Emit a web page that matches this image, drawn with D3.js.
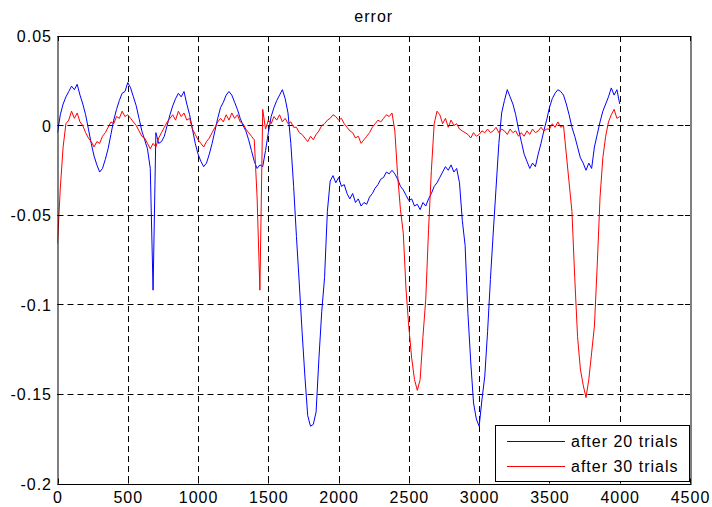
<!DOCTYPE html>
<html><head><meta charset="utf-8">
<script src="https://cdn.jsdelivr.net/npm/d3@7"></script>
<style>
body{margin:0;background:#fff}
svg{display:block}
text{font-family:"Liberation Sans",Arial,Helvetica,sans-serif;font-size:16px;letter-spacing:1px;fill:#000}
</style>
</head><body>
<svg id="c" width="712" height="507"></svg>
<script>
const chartTitle = "error";
const seriesNames = ["after 20 trials", "after 30 trials"];
const seriesColors = ["#0000ff", "#ff0000"];
const xTicks = [0, 500, 1000, 1500, 2000, 2500, 3000, 3500, 4000, 4500];
const yTicks = [-0.2, -0.15, -0.1, -0.05, 0, 0.05];
const yTickLabels = ["-0.2", "-0.15", "-0.1", "-0.05", "0", "0.05"];
const sampleStep = 20; // iterations between samples, starting at 0

const after20 = [
 -0.004, 0.006, 0.012, 0.016, 0.019, 0.022, 0.020, 0.023, 0.017, 0.012,
 0.006, -0.002, -0.010, -0.017, -0.022, -0.026, -0.024, -0.019, -0.013, -0.005,
 0.003, 0.009, 0.014, 0.018, 0.019, 0.024, 0.021, 0.016, 0.011, 0.004,
 -0.003, -0.008, -0.013, -0.024, -0.092, -0.004, -0.010, -0.009, -0.006, 0.000,
 0.006, 0.011, 0.015, 0.018, 0.016, 0.019, 0.012, 0.006, -0.002, -0.010,
 -0.016, -0.020, -0.023, -0.021, -0.016, -0.010, -0.003, 0.004, 0.010, 0.013,
 0.017, 0.019, 0.017, 0.013, 0.009, 0.004, 0.000, -0.003, -0.008, -0.014,
 -0.020, -0.024, -0.022, -0.023, -0.014, -0.004, 0.005, 0.010, 0.014, 0.017,
 0.020, 0.015, 0.007, -0.010, -0.034, -0.062, -0.088, -0.115, -0.140, -0.162,
 -0.168, -0.167, -0.160, -0.130, -0.104, -0.085, -0.048, -0.031, -0.028, -0.032,
 -0.029, -0.034, -0.033, -0.038, -0.041, -0.038, -0.043, -0.041, -0.045, -0.043,
 -0.044, -0.040, -0.038, -0.035, -0.033, -0.030, -0.029, -0.026, -0.027, -0.025,
 -0.027, -0.030, -0.034, -0.036, -0.039, -0.042, -0.041, -0.045, -0.044, -0.047,
 -0.043, -0.045, -0.041, -0.038, -0.034, -0.032, -0.029, -0.026, -0.023, -0.025,
 -0.022, -0.026, -0.024, -0.032, -0.053, -0.067, -0.105, -0.132, -0.155, -0.164,
 -0.168, -0.153, -0.140, -0.115, -0.086, -0.060, -0.035, -0.010, 0.007, 0.014,
 0.020, 0.016, 0.012, 0.006, -0.002, -0.009, -0.016, -0.020, -0.024, -0.021,
 -0.023, -0.016, -0.010, -0.003, 0.003, 0.010, 0.015, 0.018, 0.020, 0.019,
 0.017, 0.012, 0.006, -0.001, -0.006, -0.012, -0.018, -0.021, -0.025, -0.021,
 -0.024, -0.012, -0.005, 0.002, 0.008, 0.012, 0.016, 0.021, 0.017, 0.020,
 0.012
];

const after30 = [
 -0.066, -0.035, -0.012, 0.001, 0.003, 0.008, 0.004, 0.007, 0.002, 0.000,
 -0.004, -0.007, -0.009, -0.012, -0.009, -0.010, -0.006, -0.004, -0.001, 0.002,
 0.001, 0.005, 0.004, 0.008, 0.005, 0.006, 0.004, 0.002, 0.000, -0.003,
 -0.006, -0.007, -0.010, -0.013, -0.010, -0.012, -0.007, -0.004, -0.001, 0.002,
 0.004, 0.006, 0.003, 0.008, 0.005, 0.007, 0.003, 0.004, -0.002, -0.005,
 -0.008, -0.010, -0.012, -0.009, -0.007, -0.004, -0.001, 0.002, 0.004, 0.002,
 0.006, 0.003, 0.007, 0.004, 0.006, 0.002, 0.001, -0.002, -0.004, -0.006,
 -0.008, -0.040, -0.092, 0.009, -0.002, 0.003, 0.001, 0.005, 0.003, 0.006,
 0.002, 0.004, 0.001, 0.002, -0.001, -0.001, -0.004, -0.005, -0.007, -0.009,
 -0.006, -0.008, -0.005, -0.003, 0.000, 0.001, 0.003, 0.004, 0.006, 0.005,
 0.003, 0.004, 0.001, -0.001, -0.003, -0.004, -0.007, -0.006, -0.010, -0.008,
 -0.006, -0.004, -0.001, 0.001, 0.003, 0.002, 0.004, 0.006, 0.005, 0.007,
 -0.003, -0.028, -0.047, -0.060, -0.092, -0.113, -0.130, -0.142, -0.148, -0.142,
 -0.118, -0.097, -0.058, -0.025, 0.001, 0.008, 0.006, 0.001, 0.004, -0.001,
 0.003, 0.000, 0.001, -0.002, -0.003, -0.004, -0.005, -0.007, -0.004, -0.006,
 -0.005, -0.003, -0.004, -0.002, -0.004, -0.003, -0.001, -0.004, -0.002, -0.003,
 -0.005, -0.002, -0.004, -0.003, -0.006, -0.004, -0.006, -0.003, -0.005, -0.002,
 -0.004, -0.003, -0.001, -0.003, -0.002, -0.002, 0.001, -0.001, 0.002, -0.001,
 0.000, -0.016, -0.032, -0.048, -0.085, -0.118, -0.136, -0.145, -0.152, -0.142,
 -0.127, -0.112, -0.078, -0.040, -0.018, -0.006, 0.002, 0.006, 0.009, 0.004,
 0.005
];

const svg = d3.select("#c");
const L = 57.5, R = 690, T = 36, B = 483.5;
const x = d3.scaleLinear().domain([0, 4500]).range([L, R]);
const y = d3.scaleLinear().domain([-0.2, 0.05]).range([B, T]);
const px = v => Math.round(v) + 0.5;

svg.append("rect").attr("width", 712).attr("height", 507).attr("fill", "#fff");

// grid
const grid = svg.append("g").attr("stroke", "#000").attr("stroke-width", 1)
  .attr("stroke-dasharray", "6,4").attr("fill", "none");
xTicks.filter(v => v > 0 && v < 4500).forEach(v => {
  grid.append("line").attr("x1", px(x(v))).attr("x2", px(x(v))).attr("y1", T).attr("y2", B);
});
yTicks.filter(v => v > -0.2 && v < 0.05).forEach(v => {
  grid.append("line").attr("y1", px(y(v))).attr("y2", px(y(v))).attr("x1", L).attr("x2", R);
});

// data lines
svg.append("defs").append("clipPath").attr("id", "clip")
  .append("rect").attr("x", L).attr("y", T).attr("width", R - L).attr("height", B - T);
const line = d3.line().x((d, i) => x(i * sampleStep)).y(d => y(d));
[after20, after30].forEach((s, k) => {
  svg.append("path").datum(s).attr("d", line).attr("fill", "none")
    .attr("stroke", seriesColors[k]).attr("stroke-width", 1)
    .attr("clip-path", "url(#clip)");
});

// axes box with inward ticks
const ax = svg.append("g").attr("stroke", "#000").attr("stroke-width", 1).attr("fill", "none");
ax.append("rect").attr("x", px(L) - 0.5 + 0.5 - 0.5).attr("y", px(T)).attr("width", Math.round(R - L)).attr("height", Math.round(B - T));
xTicks.forEach(v => {
  const xx = px(x(v));
  ax.append("line").attr("x1", xx).attr("x2", xx).attr("y1", B).attr("y2", B - 5);
  ax.append("line").attr("x1", xx).attr("x2", xx).attr("y1", T).attr("y2", T + 5);
});
yTicks.forEach(v => {
  const yy = px(y(v));
  ax.append("line").attr("y1", yy).attr("y2", yy).attr("x1", L).attr("x2", L + 5);
  ax.append("line").attr("y1", yy).attr("y2", yy).attr("x1", R).attr("x2", R - 5);
});

// tick labels
svg.append("g").selectAll("text").data(xTicks).join("text")
  .attr("x", d => x(d) + 0.5).attr("y", 503).attr("text-anchor", "middle").text(d => d);
svg.append("g").selectAll("text").data(yTicks).join("text")
  .attr("x", 52).attr("y", d => y(d) + 6).attr("text-anchor", "end")
  .text((d, i) => yTickLabels[i]);

// title
svg.append("text").attr("x", (L + R) / 2).attr("y", 21.5).attr("text-anchor", "middle").text(chartTitle);

// legend
const lg = svg.append("g");
lg.append("rect").attr("x", 495.5).attr("y", 425.5).attr("width", 194).attr("height", 56)
  .attr("fill", "#fff").attr("stroke", "#000").attr("stroke-width", 1);
seriesNames.forEach((n, k) => {
  const yy = 441.5 + k * 25;
  lg.append("line").attr("x1", 507).attr("x2", 565).attr("y1", yy).attr("y2", yy)
    .attr("stroke", seriesColors[k]).attr("stroke-width", 1);
  lg.append("text").attr("x", 571).attr("y", 447 + k * 25).text(n);
});
</script>
</body></html>
